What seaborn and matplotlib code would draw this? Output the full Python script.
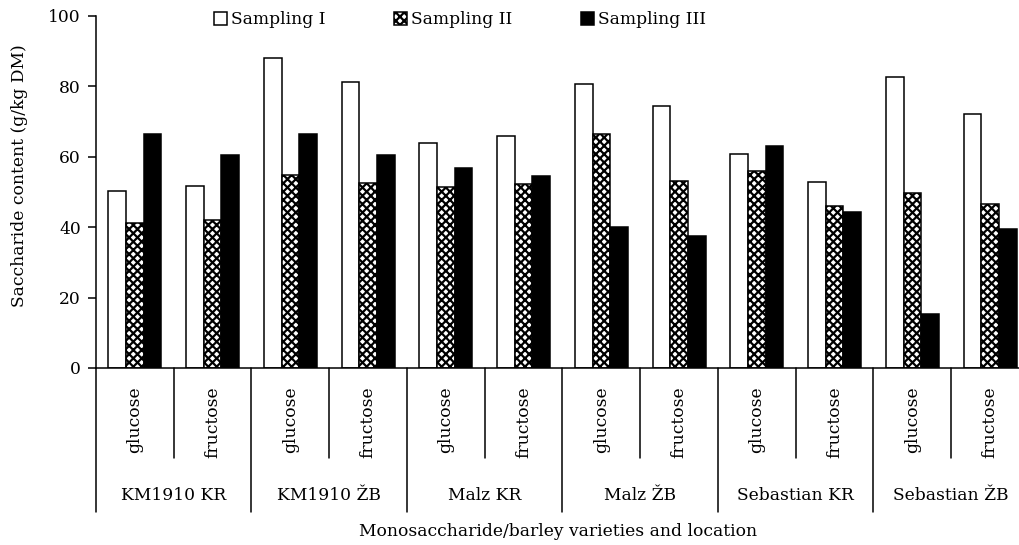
import matplotlib
matplotlib.use("Agg")
import matplotlib.pyplot as plt
import seaborn as sns
import pandas as pd
from matplotlib.patches import Patch

groups = ["KM1910 KR", "KM1910 ŽB", "Malz KR", "Malz ŽB", "Sebastian KR", "Sebastian ŽB"]
sugars = ["glucose", "fructose"]
series = ["Sampling I", "Sampling II", "Sampling III"]

sampling_1 = [50.3, 51.6, 88.2, 81.2, 63.9, 65.9, 80.7, 74.4, 60.7, 52.9, 82.6, 72.2]
sampling_2 = [41.1, 42.0, 54.8, 52.5, 51.5, 52.3, 66.6, 53.2, 56.0, 46.1, 49.7, 46.5]
sampling_3 = [66.5, 60.5, 66.5, 60.5, 56.9, 54.6, 40.1, 37.5, 63.2, 44.3, 15.4, 39.4]

y_ticks = [0, 20, 40, 60, 80, 100]

cats = [f"{g}|{s}" for g in groups for s in sugars]
rows = []
for name, vals in zip(series, [sampling_1, sampling_2, sampling_3]):
    for c, v in zip(cats, vals):
        rows.append({"cat": c, "series": name, "value": v})
df = pd.DataFrame(rows)

sns.set_theme(style="white")
plt.rcParams["font.family"] = ["DejaVu Serif"]
plt.rcParams["text.color"] = "black"
plt.rcParams["ytick.color"] = "black"
plt.rcParams["hatch.linewidth"] = 1.6
FS = 12.3

W, H = 1020, 545
fig = plt.figure(figsize=(W / 100, H / 100), dpi=100)
x0, x1, ytop, ybot = 96, 1029, 16, 368
ax = fig.add_axes([x0 / W, 1 - ybot / H, (x1 - x0) / W, (ybot - ytop) / H])

sns.barplot(data=df, x="cat", y="value", hue="series", order=cats, hue_order=series,
            palette=["white", "white", "black"], width=0.68, edgecolor="black",
            linewidth=1.1, saturation=1, legend=False, ax=ax)
for p in ax.containers[1]:
    p.set_hatch("xxxx")

ax.set_xlim(-0.5, len(cats) - 0.5)
ax.set_ylim(0, 100)
ax.set_yticks(y_ticks)
ax.tick_params(axis="y", direction="out", length=6, width=1.1, color="black",
               labelcolor="black", labelsize=FS, pad=5, left=True)
ax.set_xticks([])
ax.set_xlabel("")
ax.set_ylabel("")
for s in ["top", "right"]:
    ax.spines[s].set_visible(False)
for s in ["left", "bottom"]:
    ax.spines[s].set_color("black")
    ax.spines[s].set_linewidth(1.1)

tr = ax.get_xaxis_transform()
hpx = ybot - ytop
short = -(458 - ybot) / hpx
long = -(512 - ybot) / hpx
for k in range(len(cats) + 1):
    xb = k - 0.5
    yb = long if k % 2 == 0 else short
    ax.plot([xb, xb], [0, yb], transform=tr, color="black", lw=1.1, clip_on=False)

for i, c in enumerate(cats):
    ax.text(i, -(386 - ybot) / hpx, c.split("|")[1], transform=tr, rotation=90,
            ha="center", va="top", fontsize=FS, color="black")
for j, g in enumerate(groups):
    ax.text(2 * j + 0.5, -(495 - ybot) / hpx, g, transform=tr, ha="center",
            va="center", fontsize=FS, color="black")

fig.text(558 / W, 1 - 531 / H, "Monosaccharide/barley varieties and location",
         ha="center", va="center", fontsize=FS, color="black")
fig.text(20 / W, 1 - 176 / H, "Saccharide content (g/kg DM)", rotation=90,
         ha="center", va="center", fontsize=FS, color="black")

handles = [Patch(facecolor="white", edgecolor="black", linewidth=1.1),
           Patch(facecolor="white", edgecolor="black", linewidth=1.1, hatch="xxxx"),
           Patch(facecolor="black", edgecolor="black", linewidth=1.1)]
fig.legend(handles, series, loc="center", bbox_to_anchor=(460 / W, 1 - 20 / H),
           ncol=3, frameon=False, fontsize=FS, handlelength=0.75, handleheight=0.75,
           handletextpad=0.25, columnspacing=4.0, borderpad=0, labelcolor="black")

fig.savefig("out.png", dpi=100)
